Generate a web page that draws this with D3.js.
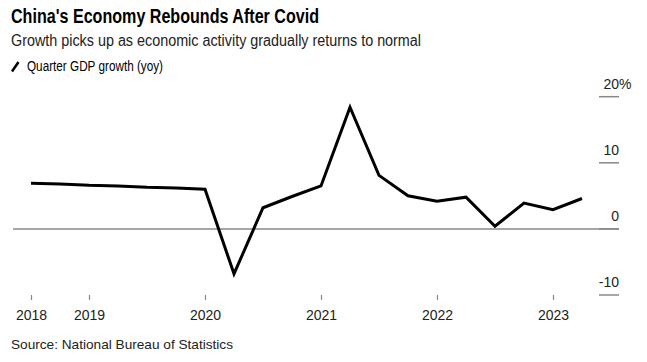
<!DOCTYPE html>
<html>
<head>
    <script type="text/javascript" src="https://d3js.org/d3.v7.min.js"></script>
    <style>
        body { margin: 0; background: #fff; }
        text { font-family: "Liberation Sans", Arial, sans-serif; }
    </style>
</head>
<body>
    <svg width="647" height="362"></svg>
    <script>
        // quarterly yoy GDP growth, one value per point on the line
        const values = [6.9, 6.8, 6.6, 6.5, 6.3, 6.2, 6.0, -6.8, 3.2, 4.9, 6.5, 18.4,
                        8.1, 5.0, 4.2, 4.8, 0.4, 3.9, 2.9, 4.6];
        // x axis labels sit on these point indexes
        const xTickIdx = [0, 2, 6, 10, 14, 18];
        const xTickLabels = ["2018", "2019", "2020", "2021", "2022", "2023"];
        const yTicks = [-10, 0, 10, 20];
        const yTickLabels = ["-10", "0", "10", "20%"];

        const svg = d3.select("svg");

        // scales
        let x = d3.scaleLinear().domain([0, values.length - 1]).range([31, 582]);
        let y = d3.scaleLinear().domain([-10, 20]).range([295, 96.7]);

        // titles
        svg.append("text").attr("x", 11).attr("y", 23)
            .attr("font-size", 20).attr("font-weight", "bold").attr("fill", "#000")
            .attr("textLength", 308).attr("lengthAdjust", "spacingAndGlyphs")
            .text("China's Economy Rebounds After Covid");
        svg.append("text").attr("x", 11).attr("y", 46)
            .attr("font-size", 16).attr("fill", "#222")
            .attr("textLength", 410).attr("lengthAdjust", "spacingAndGlyphs")
            .text("Growth picks up as economic activity gradually returns to normal");

        // legend
        svg.append("line").attr("x1", 12).attr("y1", 71.5).attr("x2", 18.5).attr("y2", 62)
            .attr("stroke", "#000").attr("stroke-width", 2.5);
        svg.append("text").attr("x", 27).attr("y", 71)
            .attr("font-size", 14).attr("fill", "#000")
            .attr("textLength", 136).attr("lengthAdjust", "spacingAndGlyphs")
            .text("Quarter GDP growth (yoy)");

        // y axis on the right: short ticks with labels above them
        let yAxis = svg.append("g");
        yAxis.selectAll("line").data(yTicks).enter().append("line")
            .attr("x1", 599).attr("x2", 619)
            .attr("y1", d => y(d)).attr("y2", d => y(d))
            .attr("stroke", "#888").attr("stroke-width", 1.5);
        yAxis.selectAll("text").data(yTicks).enter().append("text")
            .attr("x", 619).attr("y", d => y(d) - 8)
            .attr("font-size", 14).attr("fill", "#222")
            .attr("text-anchor", "start")
            .attr("dx", (d, i) => i === 3 ? -15.6 : 0)
            .text((d, i) => yTickLabels[i])
            .each(function(d, i) {
                if (i !== 3) d3.select(this).attr("text-anchor", "end").attr("dx", 0);
            });

        // zero line
        svg.append("line").attr("x1", 13).attr("x2", 619)
            .attr("y1", y(0)).attr("y2", y(0))
            .attr("stroke", "#888").attr("stroke-width", 1.5);

        // x axis
        let xAxis = svg.append("g").attr("transform", "translate(0,295)")
            .call(d3.axisBottom(x).tickValues(xTickIdx)
                .tickFormat((d, i) => xTickLabels[i]).tickSize(5));
        xAxis.select(".domain").remove();
        xAxis.selectAll(".tick line").attr("stroke", "#888").attr("stroke-width", 1.2);
        xAxis.selectAll(".tick text").attr("y", 15)
            .attr("font-size", 14).attr("fill", "#222")
            .style("font-family", "'Liberation Sans', Arial, sans-serif");

        // the line
        let line = d3.line().x((d, i) => x(i)).y(d => y(d));
        svg.append("path").datum(values)
            .attr("d", line)
            .attr("fill", "none").attr("stroke", "#000")
            .attr("stroke-width", 3).attr("stroke-linejoin", "miter");

        // source
        svg.append("text").attr("x", 11).attr("y", 349)
            .attr("font-size", 13).attr("fill", "#222")
            .attr("textLength", 222).attr("lengthAdjust", "spacingAndGlyphs")
            .text("Source: National Bureau of Statistics");
    </script>
</body>
</html>
